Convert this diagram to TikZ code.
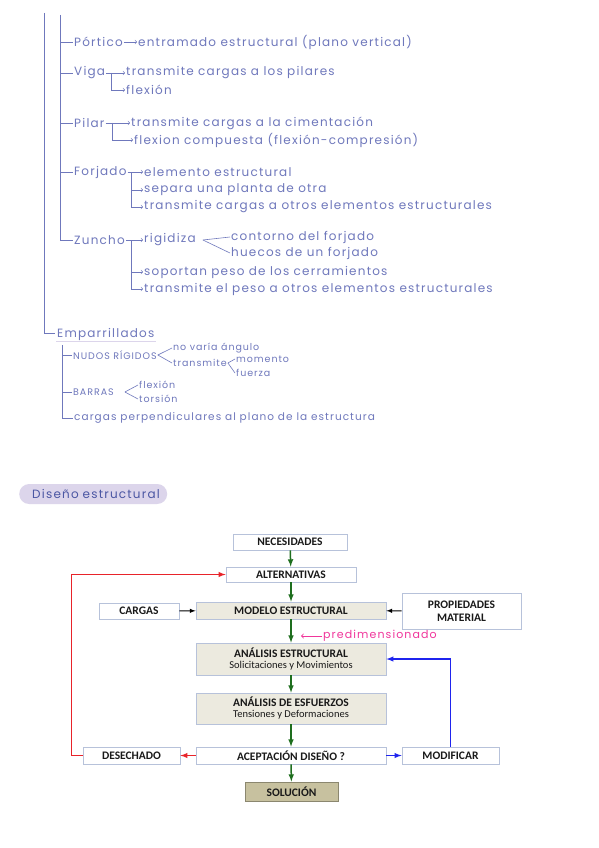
\documentclass[tikz,border=0pt]{standalone}
\usepackage{fontspec}
\setmainfont{Carlito}
\newfontfamily\hand{Poppins}[LetterSpace=10]
\usetikzlibrary{positioning,backgrounds}

\definecolor{ink}{HTML}{6F78BC}
\definecolor{lila}{HTML}{DCD5EB}
\definecolor{deep}{HTML}{4B56A3}
\definecolor{rim}{HTML}{B7C2DA}
\definecolor{beige}{HTML}{ECEADF}
\definecolor{khaki}{HTML}{C7C19F}
\definecolor{okgreen}{HTML}{1E6E1E}
\definecolor{nored}{HTML}{E8232A}
\definecolor{fixblue}{HTML}{1F24EE}
\definecolor{pink}{HTML}{F0369B}

\begin{document}
\begin{tikzpicture}[x=1pt,y=-1pt,
    hand/.style={font=\hand\fontsize{12}{13}\selectfont,text=ink,inner sep=1pt,anchor=west},
    small/.style={hand,font=\hand\fontsize{10.5}{11}\selectfont},
    tiny/.style={hand,font=\hand\fontsize{9.5}{10}\selectfont},
    twig/.style={draw=ink,line width=0.6pt},
    box/.style={draw=rim,line width=0.8pt,fill=white,minimum height=16pt,inner sep=1pt,
      font=\bfseries\fontsize{11.5}{13}\selectfont,text=black!90,align=center},
    shaded/.style={box,fill=beige},
    flow/.style={->,>=latex,line width=1.5pt,okgreen},
    back/.style={->,>=latex,line width=1.4pt},
    show background rectangle,background rectangle/.style={fill=white}
]
\useasboundingbox (0,0) rectangle (599,848);

% notes
\coordinate (stem) at (44,13);
\coordinate (trunk) at (60,15);

\node[hand] (portico) at (73,42) {Pórtico};
\node[hand] (entramado) at (137,42) {entramado estructural (plano vertical)};

\node[hand] (viga) at (73,73) {Viga};
\node[hand] (vigaA) at (125,73) {transmite cargas a los pilares};
\node[hand] (vigaB) at (125,90) {flexión};

\node[hand] (pilar) at (73,123) {Pilar};
\node[hand] (pilarA) at (130,123) {transmite cargas a la cimentación};
\node[hand] (pilarB) at (133,140) {flexion compuesta (flexión-compresión)};

\node[hand] (forjado) at (73,172) {Forjado};
\node[hand] (forjA) at (143,172) {elemento estructural};
\node[hand] (forjB) at (143,190) {separa una planta de otra};
\node[hand] (forjC) at (143,207) {transmite cargas a otros elementos estructurales};

\node[hand] (zuncho) at (73,240) {Zuncho};
\node[hand] (rigid) at (143,240) {rigidiza};
\node[hand] (contorno) at (230,237) {contorno del forjado};
\node[hand] (huecos) at (230,253) {huecos de un forjado};
\node[hand] (zunA) at (143,272) {soportan peso de los cerramientos};
\node[hand] (zunB) at (143,289) {transmite el peso a otros elementos estructurales};

\draw[twig] (stem) |- (55,333);
\draw[twig] (trunk) |- (zuncho.west);
\foreach \n in {portico,viga,pilar,forjado}{
  \draw[twig] (trunk |- \n.west) -- (\n.west);
}

\draw[twig,->] (portico) -- (entramado);
\draw[twig,->] (viga) -- (vigaA);
\draw[twig,->] ([xshift=5pt]viga.east) |- (vigaB.west);
\draw[twig,->] (pilar) -- (pilarA);
\draw[twig,->] ([xshift=7pt]pilar.east) |- (pilarB.west);
\draw[twig,->] (forjado) -- (forjA);
\draw[twig,->] ([xshift=4pt]forjado.east) |- (forjB.west);
\draw[twig,->] ([xshift=4pt]forjado.east) |- (forjC.west);
\draw[twig,->] (zuncho) -- (rigid);
\draw[twig,->] ([xshift=5pt]zuncho.east) |- (zunA.west);
\draw[twig,->] ([xshift=5pt]zuncho.east) |- (zunB.west);
\draw[twig] ([xshift=6pt]rigid.east) -- (contorno.west);
\draw[twig] ([xshift=6pt]rigid.east) -- (huecos.west);

\node[hand] (empar) at (56,334) {Emparrillados};
\draw[draw=lila,line width=1.2pt] (empar.south west) -- (empar.south east);
\coordinate (branch) at (62,345);

\node[tiny] (nudos) at (72,355) {NUDOS RÍGIDOS};
\node[tiny] (novaria) at (172,348) {no varía ángulo};
\node[tiny] (transm) at (172,363) {transmite};
\node[tiny] (momento) at (235,359) {momento};
\node[tiny] (fuerza) at (235,373) {fuerza};
\node[tiny] (barras) at (72,392) {BARRAS};
\node[tiny] (flex) at (138,385) {flexión};
\node[tiny] (tors) at (138,399) {torsión};
\node[small] (perp) at (73,418) {cargas perpendiculares al plano de la estructura};

\draw[twig] (branch) |- (perp.west);
\draw[twig] (branch |- nudos.west) -- (nudos.west);
\draw[twig] (branch |- barras.west) -- (barras.west);
\draw[twig] (nudos.east) -- (novaria.west);
\draw[twig] (nudos.east) -- (transm.west);
\draw[twig] (transm.east) -- (momento.west);
\draw[twig] (transm.east) -- (fuerza.west);
\draw[twig] ([xshift=10pt]barras.east) -- (flex.west);
\draw[twig] ([xshift=10pt]barras.east) -- (tors.west);

% heading
\node[fill=lila,rounded corners=10pt,anchor=west,inner xsep=13pt,text width=122pt,align=left,
  minimum height=20pt,font=\hand\fontsize{12}{13}\selectfont,text=deep] (titulo) at (19,494) {\mbox{Diseño estructural}};

% flow chart
\node[box,minimum width=114pt] (necesidades) at (290,542) {NECESIDADES};
\node[box,minimum width=130pt,minimum height=15pt] (alternativas) at (291,574.5) {ALTERNATIVAS};
\node[shaded,minimum width=190pt,minimum height=17pt] (modelo) at (291,610.5) {MODELO ESTRUCTURAL};
\node[box,minimum width=80pt] (cargas) at (139,611) {CARGAS};
\node[box,minimum width=119pt,minimum height=36pt] (propiedades) at (461.5,611) {PROPIEDADES\\MATERIAL};
\node[shaded,minimum width=190pt,minimum height=32pt] (analisis) at (291,659)
  {ANÁLISIS ESTRUCTURAL\\[-2pt]{\mdseries\fontsize{10.5}{11}\selectfont Solicitaciones y Movimientos}};
\node[shaded,minimum width=190pt,minimum height=31pt] (esfuerzos) at (291,708.5)
  {ANÁLISIS DE ESFUERZOS\\[-2pt]{\mdseries\fontsize{10.5}{11}\selectfont Tensiones y Deformaciones}};
\node[box,minimum width=190pt,minimum height=17pt] (aceptacion) at (291,755.5) {ACEPTACIÓN DISEÑO ?};
\node[box,minimum width=97pt,minimum height=17pt] (desechado) at (131.5,755.5) {DESECHADO};
\node[box,minimum width=97pt,minimum height=17pt] (modificar) at (450.5,755.5) {MODIFICAR};
\node[box,fill=khaki,draw=khaki!70!black,minimum width=93pt,minimum height=19pt] (solucion) at (291.5,791.5) {SOLUCIÓN};

\node[hand,font=\hand\fontsize{11}{12}\selectfont,text=pink] (predim) at (322,636) {predimensionado};
\draw[->,pink,line width=0.9pt] (predim.west) -- ++(-21,0);

\draw[flow] (necesidades) -- (alternativas);
\draw[flow] (alternativas) -- (modelo);
\draw[flow] (modelo) -- (analisis);
\draw[flow] (analisis) -- (esfuerzos);
\draw[flow] (esfuerzos) -- (aceptacion);
\draw[flow] (aceptacion) -- (solucion);

\draw[back,line width=1pt] (cargas) -- (modelo);
\draw[back,line width=1pt] (propiedades) -- (modelo);

\draw[back,nored] (aceptacion) -- (desechado);
\draw[back,nored] (desechado.west) -- ++(-11,0) |- (alternativas.west);
\draw[back,fixblue] (aceptacion) -- (modificar);
\draw[back,fixblue] (modificar.north) |- (analisis.east);

\end{tikzpicture}
\end{document}
